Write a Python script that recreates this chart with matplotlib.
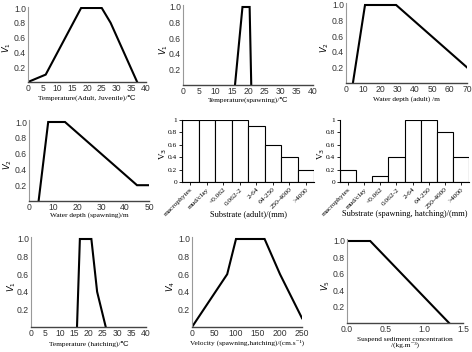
import matplotlib
matplotlib.use("Agg")
import matplotlib.pyplot as plt
import numpy as np

W, H = 472, 352
fig = plt.figure(figsize=(W / 100, H / 100), dpi=100)

serif = ['Liberation Serif', 'DejaVu Serif']
sans = ['Liberation Sans', 'DejaVu Sans']

# ---- data ----
t_adult_x = [0, 6, 18, 25, 28, 37]
t_adult_y = [0, 0.1, 1, 1, 0.8, 0]

t_spawn_x = [16, 18.3, 20.5, 21]
t_spawn_y = [0, 1, 1, 0]

d_adult_x = [4, 11, 29, 70]
d_adult_y = [0, 1, 1, 0.2]

d_spawn_x = [4, 8, 15, 45, 50]
d_spawn_y = [0, 1, 1, 0.2, 0.2]

substrate_cats = ['macrophytes', 'mud/clay', '<0.062', '0.062-2', '2-64',
                  '64-250', '250-4000', '>4000']
sub_adult = [1, 1, 1, 1, 0.9, 0.6, 0.4, 0.2]
sub_spawn = [0.2, 0, 0.1, 0.4, 1, 1, 0.8, 0.4]

t_hatch_x = [16, 17, 21, 23, 26]
t_hatch_y = [0, 1, 1, 0.4, 0]

vel_x = [0, 80, 100, 165, 200, 250]
vel_y = [0, 0.6, 1, 1, 0.6, 0.1]

ssc_x = [0, 0.3, 1.32]
ssc_y = [1, 1, 0]


def add_ax(left, right, top1, bottom0, ytop=1.02):
    # pixel box -> figure fractions (top1 = pixel row of y=1.0)
    hpx = (bottom0 - top1) * ytop
    ax = fig.add_axes([left / W, 1 - bottom0 / H, (right - left) / W, hpx / H])
    return ax, hpx


def place_labels(ax, hpx, wpx, xdist, ydist):
    # put axis labels at fixed pixel distances from the spines
    ax.xaxis.set_label_coords(0.5, -xdist / hpx)
    ax.xaxis.label.set_va('center')
    ax.yaxis.set_label_coords(-ydist / wpx, 0.45)
    ax.yaxis.label.set_va('center')


def line_panel(box, x, y, xlim, xticks, xlabel, ylabel, xdist, ydist, xfmt=None):
    ax, hpx = add_ax(*box)
    ax.plot(x, y, color='black', lw=1.5, solid_joinstyle='miter')
    ax.set_xlim(xlim)
    ax.set_ylim(0, 1.02)
    ax.set_xticks(xticks)
    if xfmt:
        ax.set_xticklabels([xfmt % v for v in xticks])
    ax.set_yticks([0.2, 0.4, 0.6, 0.8, 1.0])
    ax.set_yticklabels(['0.2', '0.4', '0.6', '0.8', '1.0'])
    for s in ['top', 'right']:
        ax.spines[s].set_visible(False)
    ax.spines['left'].set_color('#999999')
    ax.spines['bottom'].set_color('#444444')
    ax.spines['left'].set_linewidth(0.8)
    ax.spines['bottom'].set_linewidth(1.0)
    ax.tick_params(length=0, pad=1.5, labelsize=6.2)
    for lab in ax.get_xticklabels() + ax.get_yticklabels():
        lab.set_family(sans)
        lab.set_color('#333333')
    ax.set_xlabel(xlabel, family=serif, fontsize=5.3, linespacing=1.0)
    ax.set_ylabel(ylabel, family=serif, fontsize=6)
    place_labels(ax, hpx, box[1] - box[0], xdist, ydist)
    return ax


def bar_panel(box, vals, xlabel, ylabel, xdist, ydist):
    ax, hpx = add_ax(*box, ytop=1.0)
    pos = np.arange(len(substrate_cats))
    ax.bar(pos, vals, width=1.0, color='white', edgecolor='black', lw=0.8)
    ax.set_xlim(-0.5, len(substrate_cats) - 0.5)
    ax.set_ylim(0, 1)
    ax.set_yticks([0, 0.2, 0.4, 0.6, 0.8, 1])
    ax.set_yticklabels(['0', '0.2', '0.4', '0.6', '0.8', '1'])
    ax.set_xticks(pos)
    ax.set_xticklabels(substrate_cats, rotation=45, ha='right',
                       rotation_mode='anchor')
    for s in ['top', 'right']:
        ax.spines[s].set_visible(False)
    ax.spines['left'].set_linewidth(0.8)
    ax.spines['bottom'].set_linewidth(0.8)
    ax.tick_params(length=2, width=0.6, pad=1.5, labelsize=5.3)
    for lab in ax.get_xticklabels() + ax.get_yticklabels():
        lab.set_family(serif)
    ax.set_xlabel(xlabel, family=serif, fontsize=6)
    ax.set_ylabel(ylabel, family=serif, fontsize=6.5)
    place_labels(ax, hpx, box[1] - box[0], xdist, ydist)
    return ax


line_panel((28, 146, 8, 82), t_adult_x, t_adult_y, (0, 40), range(0, 41, 5),
           'Temperature(Adult, Juvenile)/\u2103', '$V_1$', 15.5, 21)
line_panel((183, 313, 7, 85), t_spawn_x, t_spawn_y, (0, 40), range(0, 41, 5),
           'Temperature(spawning)/\u2103', '$V_1$', 14.5, 19)
line_panel((346, 467, 5, 83), d_adult_x, d_adult_y, (0, 70), range(0, 71, 10),
           'Water depth (adult) /m', '$V_2$', 16, 21)
line_panel((29, 149, 122, 201), d_spawn_x, d_spawn_y, (0, 50), range(0, 51, 10),
           'Water depth (spawning)/m', '$V_2$', 14, 21)

bar_panel((182, 314, 120, 182), sub_adult, 'Substrate (adult)/(mm)', 'V$_3$', 32, 19)
bar_panel((340, 469, 120, 182), sub_spawn,
          'Substrate (spawning, hatching)/(mm)', 'V$_3$', 32, 19)

line_panel((31, 146, 239, 327), t_hatch_x, t_hatch_y, (0, 40), range(0, 41, 5),
           'Temperature (hatching)/\u2103', '$V_1$', 17, 19.5)
line_panel((192, 302, 239, 327), vel_x, vel_y, (0, 250), range(0, 251, 50),
           'Velocity (spawning,hatching)/(cm.s\u207b\u00b9)', '$V_4$', 15.5, 21)
line_panel((347, 463, 241, 323), ssc_x, ssc_y, (0, 1.5), [0, 0.5, 1.0, 1.5],
           'Suspend sediment concentration\n/(kg.m\u207b\u00b3)', '$V_5$', 19.5, 21,
           xfmt='%.1f')

fig.savefig('out.png', dpi=100, facecolor='white')
